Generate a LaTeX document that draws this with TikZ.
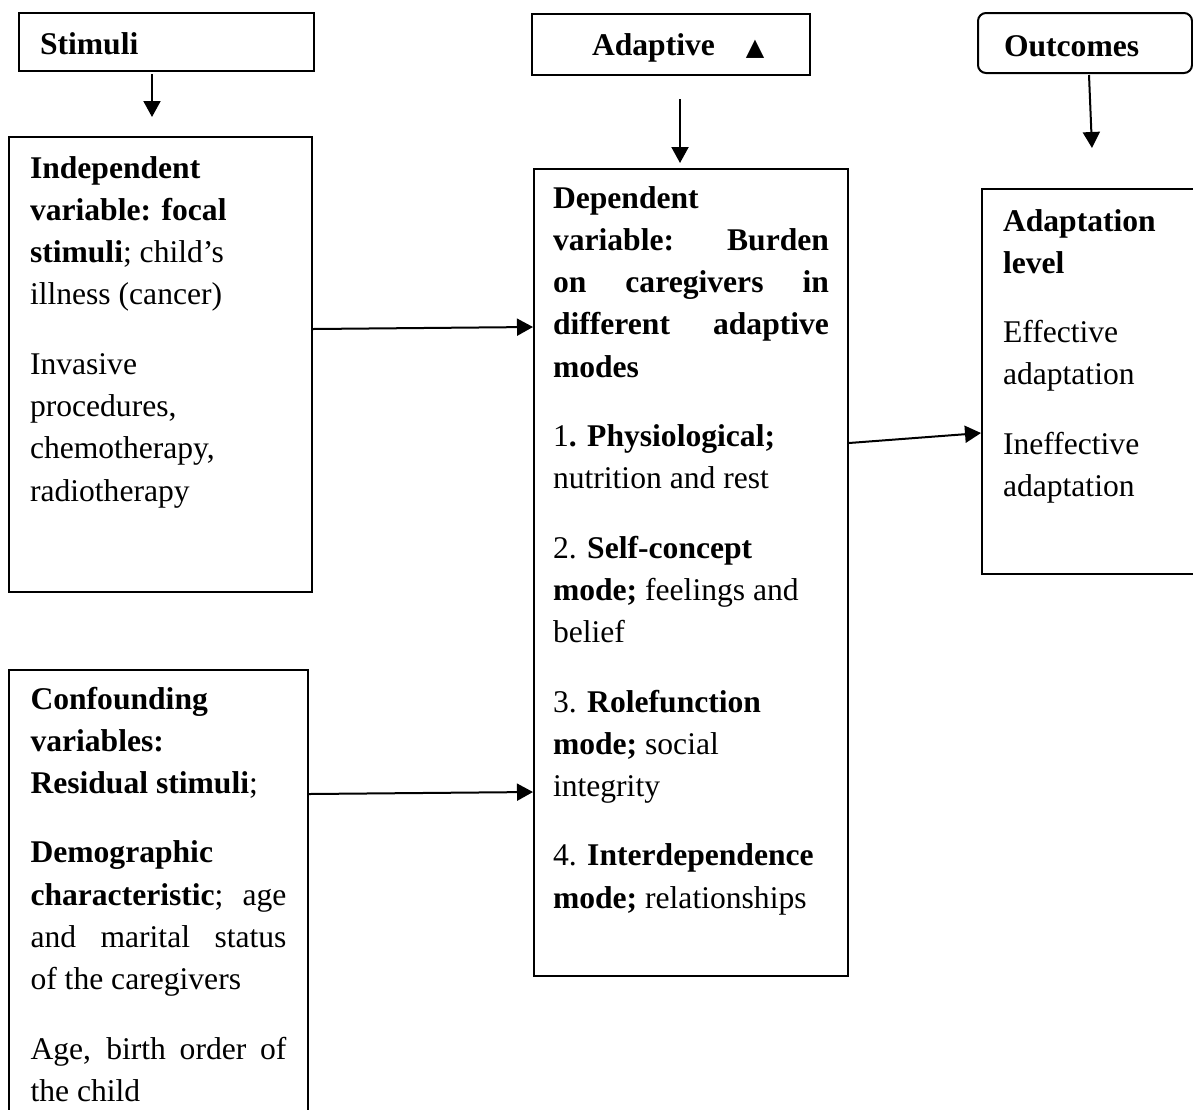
\documentclass[tikz,border=0pt]{standalone}
\usepackage{fontspec}
\setmainfont{Liberation Serif}
\newfontfamily\symbfont{DejaVu Sans}
\usetikzlibrary{arrows.meta}

\begin{document}
\begin{tikzpicture}[x=0.5pt, y=-0.5pt, line width=1pt, every node/.style={font=\fontsize{15.8}{21.15}\selectfont}, >={Triangle[length=8pt,width=8.5pt]},
	head/.style={draw, anchor=north west, inner sep=0pt, align=flush left},
	box/.style={draw, anchor=north west, inner ysep=0pt, execute at begin node={\setlength{\parskip}{13.5pt}\hyphenpenalty=10000}}]
	\useasboundingbox (0,0) rectangle (1193,1109);
	% top row
	\node[head, text width=147.5pt, text height=20.5pt, text depth=8.5pt] (stim) at (18,12) {\hspace*{10.5pt}\textbf{Stimuli}};
	\node[head, text width=139pt, text height=20.5pt, text depth=10pt] (adapt) at (531,13) {\hspace*{30pt}\textbf{Adaptive}\hspace{15.5pt}{\symbfont\fontsize{12}{12}\selectfont ▲}};
	\node[head, rounded corners=4pt, text width=107pt, text height=21.5pt, text depth=8.5pt] (outc) at (977,12) {\hspace*{13pt}\textbf{Outcomes}};
	% variables
	\node[box, align=flush left, inner xsep=10.5pt, text width=130.5pt, text height=20.5pt, text depth=207pt] (indep) at (8,136)
		{\textbf{Independent}\\ \textbf{variable: focal}\\ \textbf{stimuli}; child’s\\ illness (cancer)\par
		Invasive\\ procedures,\\ chemotherapy,\\ radiotherapy};
	\node[box, align=justify, inner xsep=10.75pt, text width=128pt, text height=19.5pt, text depth=208.5pt] (conf) at (8,669)
		{\textbf{Confounding}\\ \textbf{variables:}\\ \textbf{Residual stimuli};\par
		\textbf{Demographic}\\ \textbf{characteristic}; age\linebreak and marital status\linebreak of the caregivers\par
		Age, birth order of\linebreak the child};
	\node[box, align=justify, inner xsep=9.5pt, text width=138pt, text height=19.5pt, text depth=384pt] (dep) at (533,168)
		{\textbf{Dependent}\\ \textbf{variable: Burden}\linebreak \textbf{on caregivers in}\linebreak \textbf{different adaptive}\linebreak \textbf{modes}\par
		1\textbf{. Physiological;}\\ nutrition and rest\par
		2. \textbf{Self-concept}\\ \textbf{mode;} feelings and\\ belief\par
		3. \textbf{Rolefunction}\\ \textbf{mode;} social\\ integrity\par
		4. \textbf{Interdependence}\\ \textbf{mode;} relationships};
	\node[box, align=flush left, inner xsep=10.5pt, text width=88.5pt, text height=21pt, text depth=171.5pt] (adlev) at (981,188)
		{\textbf{Adaptation}\\ \textbf{level}\par
		Effective\\ adaptation\par
		Ineffective\\ adaptation};
	% arrows
	\draw[->] ([xshift=67pt,yshift=-1pt]stim.south west) -- ([xshift=72pt,yshift=9.5pt]indep.north west);
	\draw[->] ([xshift=74.5pt,yshift=-11.5pt]adapt.south west) -- ([xshift=73.5pt,yshift=2.5pt]dep.north west);
	\draw[->] ([xshift=56pt,yshift=-0.5pt]outc.south west) -- ([xshift=55.5pt,yshift=20pt]adlev.north west);
	\draw[->] ([yshift=17.75pt]indep.east) -- ([yshift=122.75pt]dep.west);
	\draw[->] ([yshift=52pt]conf.east) -- ([yshift=-109.75pt]dep.west);
	\draw[->] ([yshift=64.75pt]dep.east) -- ([yshift=-25.75pt]adlev.west);
\end{tikzpicture}
\end{document}
